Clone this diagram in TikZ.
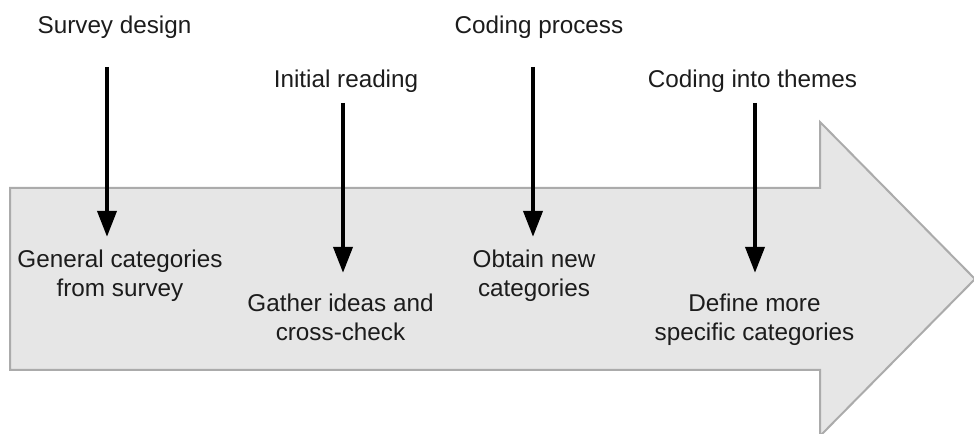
\documentclass[tikz,border=0pt]{standalone}
\usepackage{fontspec}
\setmainfont{Liberation Sans}
\usetikzlibrary{arrows.meta}
\definecolor{bandfill}{HTML}{E6E6E6}
\definecolor{bandline}{HTML}{ABABAB}
\definecolor{txt}{HTML}{1C1C1C}
\tikzset{
  lbl/.style={inner sep=0pt, anchor=base, text=txt, font=\fontsize{18.2pt}{21.75pt}\selectfont},
  flow/.style={line width=3.4pt, black, -{Triangle[length=19.5pt,width=14pt]}},
  band/.style={fill=bandfill, draw=bandline, line width=1.5pt, line join=miter}
}
\newcommand{\twolines}[2]{\begin{tabular}[t]{@{}c@{}}#1\\#2\end{tabular}}
\begin{document}
\begin{tikzpicture}[x=0.75pt,y=-0.75pt]
\useasboundingbox (0,0) rectangle (974,434);
\begin{scope}
\clip (0,0) rectangle (974,434);
\draw[band] (10,188) -- (820,188) -- (820,122) -- (975,279) -- (820,436) -- (820,370) -- (10,370) -- cycle;
\end{scope}
% top labels
\node[lbl] (sd) at (114.5,34) {Survey design};
\node[lbl] (ir) at (346,88) {Initial reading};
\node[lbl] (cp) at (539,34) {Coding process};
\node[lbl] (ct) at (752.5,88) {Coding into themes};
% inner labels
\node[lbl] (gc) at (120,268) {\twolines{General categories}{from survey}};
\node[lbl] (gi) at (340.5,312) {\twolines{Gather ideas and}{cross-check}};
\node[lbl] (on) at (534,268) {\twolines{Obtain new}{categories}};
\node[lbl] (dm) at (754.5,312) {\twolines{Define more}{specific categories}};
% arrow ends
\coordinate (s1) at (107,67);  \coordinate (e1) at (107,237);
\coordinate (s2) at (343,103); \coordinate (e2) at (343,273);
\coordinate (s3) at (533,67);  \coordinate (e3) at (533,237);
\coordinate (s4) at (755,103); \coordinate (e4) at (755,273);
\draw[flow] (s1) -- (e1);
\draw[flow] (s2) -- (e2);
\draw[flow] (s3) -- (e3);
\draw[flow] (s4) -- (e4);
\end{tikzpicture}
\end{document}
